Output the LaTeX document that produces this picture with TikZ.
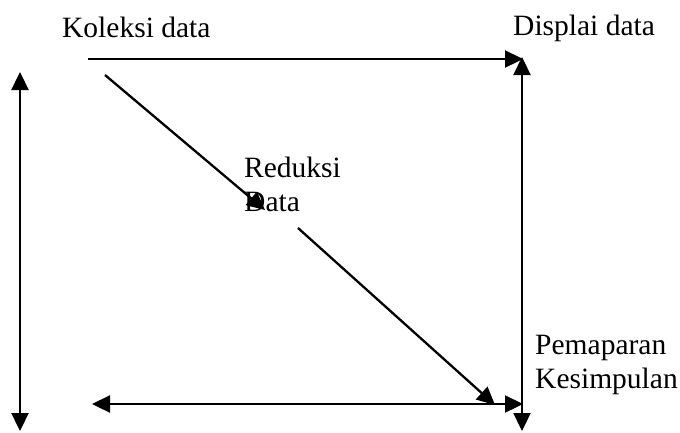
\documentclass[tikz,border=0pt]{standalone}
\usepackage{fontspec}
\setmainfont{Liberation Serif}
\usetikzlibrary{arrows.meta}
\begin{document}
\begin{tikzpicture}[x=1pt,y=-1pt,
  conn/.style={line width=2.3pt,
    arrows={-Triangle[length=18pt,width=17pt]}},
  dconn/.style={line width=2.3pt,
    arrows={Triangle[length=18pt,width=17pt]-Triangle[length=18pt,width=17pt]}},
  lbl/.style={inner sep=0pt,anchor=base west,font=\fontsize{29.5}{34}\selectfont,align=left}]
\useasboundingbox (0,0) rectangle (680,432);
% labels
\node[lbl] (kol) at (62,37) {Koleksi data};
\node[lbl] (dis) at (513,35) {Displai data};
\node[lbl] (red) at (244,211) {Reduksi\\Data};
\node[lbl] (pem) at (535,388) {Pemaparan\\Kesimpulan};
% connector end points
\coordinate (tA) at (88,59);
\coordinate (tB) at (523,59);
\coordinate (rA) at (522,57);
\coordinate (rB) at (522,431);
\coordinate (lA) at (20,72);
\coordinate (lB) at (20,431);
\coordinate (bA) at (92,404);
\coordinate (bB) at (523,404);
\coordinate (d1A) at (105,75);
\coordinate (d1B) at (265,210);
\coordinate (d2A) at (298,228);
\coordinate (d2B) at (495,405);
% connectors
\draw[conn] (tA) -- (tB);
\draw[dconn] (rA) -- (rB);
\draw[dconn] (lA) -- (lB);
\draw[dconn] (bA) -- (bB);
\draw[conn] (d1A) -- (d1B);
\draw[conn] (d2A) -- (d2B);
\end{tikzpicture}
\end{document}
